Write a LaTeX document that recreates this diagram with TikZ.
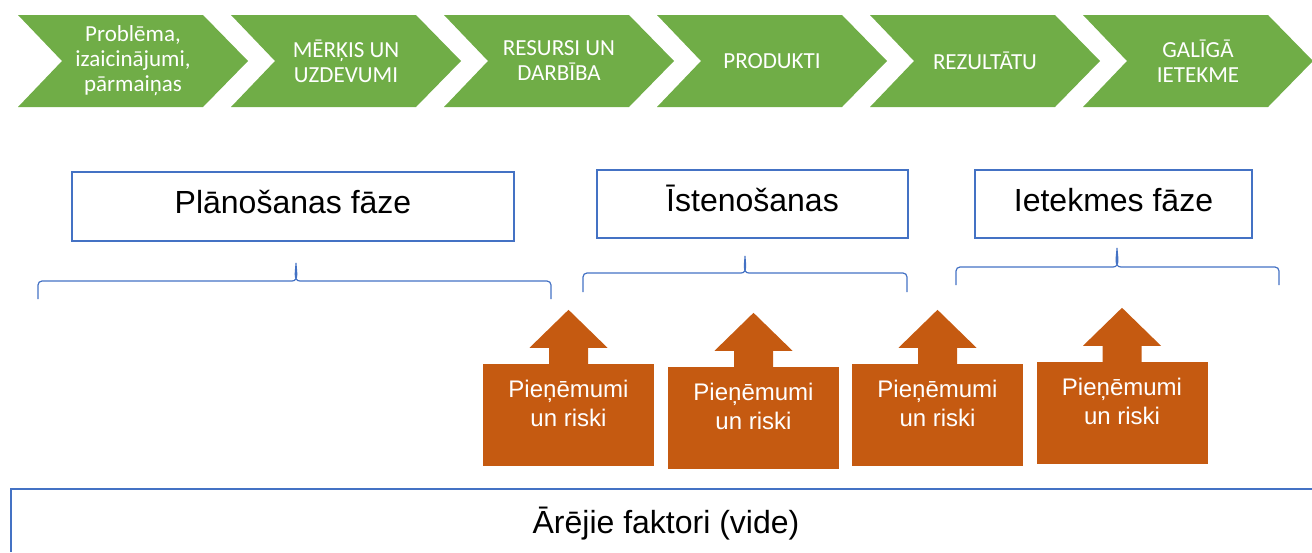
\documentclass[tikz,border=0pt]{standalone}
\usepackage{fontspec}
\setmainfont{Liberation Sans}
\newfontfamily\chevfont{Carlito}
\definecolor{chevgreen}{HTML}{70AD47}
\definecolor{riskorange}{HTML}{C55A11}
\definecolor{phaseblue}{HTML}{4472C4}

\begin{document}
\begin{tikzpicture}[x=1pt, y=-1pt,
  chevtext/.style={text=white, align=center, font=\chevfont\fontsize{23}{25}\selectfont},
  phasebox/.style={draw=phaseblue, line width=2.5pt, inner sep=0pt, text height=22pt, text depth=8pt, font=\fontsize{32}{36}\selectfont},
  riskbox/.style={fill=riskorange, minimum width=171pt, minimum height=102pt, inner sep=0pt},
  risktext/.style={text=white, align=center, font=\fontsize{24}{29}\selectfont},
  phasebrace/.style={draw=phaseblue, line width=1.2pt}]
  \useasboundingbox (0,0) rectangle (1312,552);

  % Chevrons
  \foreach \x/\txt [count=\i] in {18/{Problēma,\\izaicinājumi,\\pārmaiņas}, 231/{MĒRĶIS UN\\UZDEVUMI}, 444/{RESURSI UN\\DARBĪBA}, 657/PRODUKTI, 870/REZULTĀTU, 1083/{GALĪGĀ\\IETEKME}}{
    \fill[chevgreen] (\x,15) -- ++(185,0) -- ++(45,46) -- ++(-45,46) -- ++(-185,0) -- ++(44,-46) -- cycle;
    \node[chevtext] (c\i) at (\x+115,61) {\txt};
  }

  % Phases
  \node[phasebox, minimum width=442pt, minimum height=69pt] (plan) at (293,206.5) {Plānošanas fāze};
  \node[phasebox, minimum width=311pt, minimum height=68pt] (impl) at (752.5,204) {Īstenošanas};
  \node[phasebox, minimum width=277pt, minimum height=68pt] (impact) at (1113.5,204) {Ietekmes fāze};

  % Braces
  \foreach \l/\m/\r/\ly/\ty/\by in {38/296/551/281/263/299, 583/745/907/273/256/292, 956/1117/1279/267/248/285}{
    \draw[phasebrace] (\l,\by) -- (\l,\ly+4) to[out=90,in=180] (\l+4,\ly) -- (\m-4,\ly)
      to[out=0,in=-90] (\m,\ty) to[out=-90,in=180] (\m+4,\ly) -- (\r-4,\ly) to[out=0,in=90] (\r,\ly+4) -- (\r,\by);
  }

  % Assumptions and risks
  \foreach \cx/\cy [count=\i] in {568.5/415, 753.5/418, 937.5/415, 1122/413}{
    \node[riskbox] (r\i) at (\cx,\cy) {};
    \fill[riskorange] ([xshift=-19.5pt,yshift=-1pt]r\i.north) |- ([xshift=-39pt,yshift=16pt]r\i.north)
      -- ([yshift=54pt]r\i.north) -- ([xshift=39pt,yshift=16pt]r\i.north) -| ([xshift=19.5pt,yshift=-1pt]r\i.north) -- cycle;
    \node[risktext] (t\i) at ([yshift=12pt]r\i.center) {Pieņēmumi\\un riski};
  }

  % Environment
  \draw[phaseblue, line width=2.5pt] (1312,489) -| (11,552);
  \node[font=\fontsize{32}{36}\selectfont, text height=22pt, text depth=8pt] (env) at (666,526) {Ārējie faktori (vide)};
\end{tikzpicture}
\end{document}
